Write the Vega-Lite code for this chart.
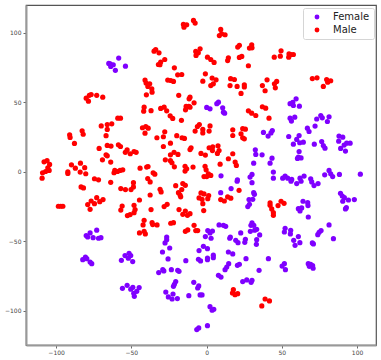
{"$schema":"https://vega.github.io/schema/vega-lite/v6.json","width":350,"height":340,"autosize":"none","padding":{"left":26,"top":5,"right":5,"bottom":15},"background":"white","config":{"font":"DejaVu Sans","view":{"stroke":"#555555","strokeWidth":1.2}},"datasets":{"pts":[
{"x":-58.4,"y":81.8,"g":"Female"},{"x":-53.9,"y":76,"g":"Female"},{"x":-60.6,"y":73,"g":"Female"},{"x":-65,"y":78,"g":"Female"},{"x":-63.7,"y":75.8,"g":"Female"},{"x":-62,"y":77,"g":"Female"},{"x":-64,"y":77.7,"g":"Female"},
{"x":7.9,"y":50.1,"g":"Female"},{"x":6.8,"y":49,"g":"Female"},{"x":0.1,"y":46.3,"g":"Female"},{"x":2.3,"y":45.3,"g":"Female"},{"x":10.7,"y":46,"g":"Female"},{"x":11.2,"y":42.9,"g":"Female"},{"x":12,"y":42.2,"g":"Female"},
{"x":59.5,"y":52.5,"g":"Female"},{"x":57.3,"y":50,"g":"Female"},{"x":55.5,"y":49,"g":"Female"},{"x":57.7,"y":47.7,"g":"Female"},{"x":61.7,"y":47.2,"g":"Female"},{"x":55.5,"y":38.6,"g":"Female"},{"x":58.6,"y":39.3,"g":"Female"},{"x":56.4,"y":36.5,"g":"Female"},
{"x":73.2,"y":38,"g":"Female"},{"x":75.9,"y":40.5,"g":"Female"},{"x":76.9,"y":38.8,"g":"Female"},{"x":81.4,"y":39.6,"g":"Female"},{"x":80.3,"y":36.2,"g":"Female"},{"x":72.1,"y":32.9,"g":"Female"},{"x":67,"y":31.4,"g":"Female"},{"x":68.1,"y":29,"g":"Female"},
{"x":37.8,"y":28.3,"g":"Female"},{"x":43.7,"y":29.7,"g":"Female"},{"x":42.8,"y":28,"g":"Female"},{"x":40.9,"y":25.7,"g":"Female"},{"x":54.6,"y":25.4,"g":"Female"},{"x":61.5,"y":26.1,"g":"Female"},{"x":59.9,"y":23.3,"g":"Female"},{"x":57.7,"y":19.9,"g":"Female"},{"x":61.9,"y":20.9,"g":"Female"},{"x":64.3,"y":21.3,"g":"Female"},
{"x":71.6,"y":19.9,"g":"Female"},{"x":76.5,"y":21.8,"g":"Female"},{"x":77.6,"y":18.9,"g":"Female"},{"x":78.7,"y":17,"g":"Female"},{"x":88,"y":25.7,"g":"Female"},{"x":90.5,"y":24.9,"g":"Female"},{"x":87.8,"y":22,"g":"Female"},{"x":93.1,"y":20.6,"g":"Female"},{"x":95.4,"y":20.6,"g":"Female"},{"x":91.4,"y":19.2,"g":"Female"},{"x":89.1,"y":16.8,"g":"Female"},{"x":92.3,"y":14.9,"g":"Female"},
{"x":61.5,"y":14.6,"g":"Female"},{"x":61,"y":10.6,"g":"Female"},{"x":62.8,"y":10,"g":"Female"},{"x":60.4,"y":9.6,"g":"Female"},{"x":32.4,"y":15.8,"g":"Female"},{"x":32.7,"y":12.5,"g":"Female"},{"x":36.9,"y":12.2,"g":"Female"},{"x":43.5,"y":9.8,"g":"Female"},{"x":31.3,"y":6.2,"g":"Female"},{"x":42.2,"y":6.2,"g":"Female"},
{"x":9.6,"y":-2.9,"g":"Female"},{"x":30.2,"y":-1.9,"g":"Female"},{"x":28.9,"y":-3.8,"g":"Female"},{"x":44.4,"y":-0.2,"g":"Female"},{"x":44.4,"y":-4.6,"g":"Female"},{"x":52.2,"y":-3.1,"g":"Female"},{"x":50.6,"y":-4.6,"g":"Female"},{"x":53.9,"y":-4.6,"g":"Female"},{"x":56.6,"y":-5.5,"g":"Female"},{"x":62.1,"y":-4.6,"g":"Female"},{"x":64.8,"y":-3.1,"g":"Female"},{"x":69.2,"y":-5,"g":"Female"},
{"x":81.4,"y":1,"g":"Female"},{"x":82.5,"y":-1.4,"g":"Female"},{"x":78.5,"y":-2.2,"g":"Female"},{"x":83.8,"y":-3.4,"g":"Female"},{"x":88.3,"y":-1.9,"g":"Female"},{"x":102.2,"y":-1.7,"g":"Female"},{"x":20.5,"y":-5.8,"g":"Female"},
{"x":-73,"y":-42,"g":"Female"},{"x":-77.4,"y":-44,"g":"Female"},{"x":-80,"y":-45.9,"g":"Female"},{"x":-79,"y":-46.9,"g":"Female"},{"x":-75.4,"y":-47.4,"g":"Female"},{"x":-71.8,"y":-47.8,"g":"Female"},{"x":-70.2,"y":-47.4,"g":"Female"},
{"x":-80.5,"y":-61.3,"g":"Female"},{"x":-82.3,"y":-63.2,"g":"Female"},{"x":-79.6,"y":-62.5,"g":"Female"},{"x":-77.4,"y":-64.9,"g":"Female"},{"x":-76.3,"y":-66.1,"g":"Female"},
{"x":-51.5,"y":-58.6,"g":"Female"},{"x":-54.2,"y":-60.3,"g":"Female"},{"x":-50.4,"y":-60.3,"g":"Female"},{"x":-52,"y":-62.2,"g":"Female"},{"x":-56.6,"y":-63.7,"g":"Female"},{"x":-49.1,"y":-64.6,"g":"Female"},
{"x":-26.5,"y":-46.9,"g":"Female"},{"x":-26.5,"y":-48.8,"g":"Female"},{"x":-27.6,"y":-51.2,"g":"Female"},{"x":-24.5,"y":-54.8,"g":"Female"},{"x":-29.3,"y":-57.7,"g":"Female"},{"x":-25.6,"y":-62.7,"g":"Female"},{"x":-13.8,"y":-63.9,"g":"Female"},
{"x":-31.8,"y":-72.5,"g":"Female"},{"x":-29.1,"y":-70.4,"g":"Female"},{"x":-28.4,"y":-71.3,"g":"Female"},{"x":-23.4,"y":-70.4,"g":"Female"},{"x":-19.2,"y":-70.9,"g":"Female"},{"x":-18.3,"y":-71.6,"g":"Female"},
{"x":-52.8,"y":-81.7,"g":"Female"},{"x":-55.9,"y":-83.8,"g":"Female"},{"x":-49,"y":-83.1,"g":"Female"},{"x":-50.4,"y":-84.5,"g":"Female"},{"x":-44.8,"y":-83.3,"g":"Female"},{"x":-46.4,"y":-86,"g":"Female"},{"x":-48.4,"y":-87.4,"g":"Female"},{"x":-48,"y":-89.6,"g":"Female"},
{"x":-20.5,"y":-79,"g":"Female"},{"x":-21.4,"y":-80.9,"g":"Female"},{"x":-22,"y":-82.4,"g":"Female"},{"x":-27.1,"y":-86.5,"g":"Female"},{"x":-22.3,"y":-87.9,"g":"Female"},{"x":-25.4,"y":-90,"g":"Female"},{"x":-22.9,"y":-91.5,"g":"Female"},{"x":-19.4,"y":-91.2,"g":"Female"},{"x":-11.8,"y":-89.1,"g":"Female"},
{"x":30.2,"y":-7.8,"g":"Female"},{"x":20.3,"y":-6.8,"g":"Female"},{"x":16.3,"y":-12.1,"g":"Female"},{"x":9.4,"y":-15,"g":"Female"},{"x":56.1,"y":-6.8,"g":"Female"},{"x":59.9,"y":-8.5,"g":"Female"},{"x":62.8,"y":-6.8,"g":"Female"},{"x":69.9,"y":-7.3,"g":"Female"},{"x":71.4,"y":-9.9,"g":"Female"},{"x":74.1,"y":-8.5,"g":"Female"},
{"x":31.3,"y":-15,"g":"Female"},{"x":31.8,"y":-16.2,"g":"Female"},{"x":28.2,"y":-20,"g":"Female"},{"x":30.7,"y":-19.8,"g":"Female"},{"x":28.5,"y":-23.4,"g":"Female"},{"x":27.4,"y":-25,"g":"Female"},
{"x":89,"y":-15.5,"g":"Female"},{"x":90.2,"y":-17.4,"g":"Female"},{"x":91.6,"y":-18.6,"g":"Female"},{"x":90.5,"y":-21.2,"g":"Female"},{"x":94.3,"y":-20.3,"g":"Female"},{"x":98.2,"y":-20,"g":"Female"},{"x":92.9,"y":-25.8,"g":"Female"},{"x":92.3,"y":-26.7,"g":"Female"},
{"x":64.1,"y":-21.2,"g":"Female"},{"x":67.2,"y":-22.2,"g":"Female"},{"x":67.4,"y":-24.3,"g":"Female"},{"x":61,"y":-26.5,"g":"Female"},{"x":63.2,"y":-26,"g":"Female"},{"x":62.1,"y":-28.2,"g":"Female"},{"x":67.6,"y":-32.5,"g":"Female"},
{"x":8.3,"y":-38.2,"g":"Female"},{"x":11.2,"y":-38.5,"g":"Female"},{"x":12.7,"y":-39.2,"g":"Female"},{"x":0.8,"y":-42.3,"g":"Female"},{"x":3.9,"y":-42.6,"g":"Female"},{"x":2.3,"y":-44,"g":"Female"},{"x":-0.8,"y":-46.6,"g":"Female"},{"x":3,"y":-47.8,"g":"Female"},
{"x":30.2,"y":-36.8,"g":"Female"},{"x":29.5,"y":-38.5,"g":"Female"},{"x":31.4,"y":-38.5,"g":"Female"},{"x":32,"y":-42,"g":"Female"},{"x":29.1,"y":-42.8,"g":"Female"},{"x":33.3,"y":-41.4,"g":"Female"},{"x":22.7,"y":-44,"g":"Female"},{"x":35.3,"y":-45.4,"g":"Female"},{"x":33.3,"y":-48.8,"g":"Female"},{"x":33.1,"y":-52.2,"g":"Female"},
{"x":15.8,"y":-46.9,"g":"Female"},{"x":15.4,"y":-47.8,"g":"Female"},{"x":19.4,"y":-49.3,"g":"Female"},{"x":20.9,"y":-51,"g":"Female"},{"x":25.8,"y":-48.6,"g":"Female"},{"x":25.4,"y":-50.7,"g":"Female"},{"x":-2.1,"y":-53.6,"g":"Female"},{"x":0.6,"y":-55.3,"g":"Female"},{"x":-5,"y":-56.7,"g":"Female"},
{"x":14.5,"y":-57.7,"g":"Female"},{"x":17.4,"y":-59.1,"g":"Female"},{"x":4.5,"y":-60,"g":"Female"},{"x":4.5,"y":-61.8,"g":"Female"},{"x":0.6,"y":-62,"g":"Female"},{"x":0.6,"y":-63.2,"g":"Female"},{"x":-5.4,"y":-62.9,"g":"Female"},{"x":-4,"y":-64.1,"g":"Female"},
{"x":26.2,"y":-62.5,"g":"Female"},{"x":14.7,"y":-66.1,"g":"Female"},{"x":21.8,"y":-66.5,"g":"Female"},{"x":20.5,"y":-67.3,"g":"Female"},{"x":13.4,"y":-68.5,"g":"Female"},{"x":12.3,"y":-70.4,"g":"Female"},{"x":41.1,"y":-62.5,"g":"Female"},{"x":34.9,"y":-70.9,"g":"Female"},
{"x":52.2,"y":-40.6,"g":"Female"},{"x":51.7,"y":-43.3,"g":"Female"},{"x":55.9,"y":-42.1,"g":"Female"},{"x":55.7,"y":-44.7,"g":"Female"},{"x":61,"y":-46.6,"g":"Female"},{"x":57.9,"y":-49.3,"g":"Female"},{"x":58.8,"y":-52.9,"g":"Female"},{"x":62,"y":-51,"g":"Female"},
{"x":81.4,"y":-38.2,"g":"Female"},{"x":76.1,"y":-42.3,"g":"Female"},{"x":74.8,"y":-43.5,"g":"Female"},{"x":73.9,"y":-45.2,"g":"Female"},{"x":84.3,"y":-48.1,"g":"Female"},{"x":70.3,"y":-51.2,"g":"Female"},{"x":71,"y":-51.9,"g":"Female"},
{"x":51.7,"y":-66.1,"g":"Female"},{"x":50.2,"y":-67.8,"g":"Female"},{"x":52.4,"y":-70.4,"g":"Female"},{"x":67.6,"y":-66.1,"g":"Female"},{"x":69.2,"y":-66.6,"g":"Female"},{"x":68.3,"y":-68,"g":"Female"},{"x":70.5,"y":-67.5,"g":"Female"},{"x":70.8,"y":-69.4,"g":"Female"},
{"x":7.9,"y":-74.5,"g":"Female"},{"x":9.6,"y":-75.7,"g":"Female"},{"x":-8.5,"y":-79.5,"g":"Female"},{"x":24,"y":-79,"g":"Female"},{"x":26.7,"y":-77.8,"g":"Female"},{"x":29.6,"y":-79.5,"g":"Female"},{"x":30.2,"y":-78,"g":"Female"},
{"x":-5.2,"y":-82.1,"g":"Female"},{"x":-5.9,"y":-83.6,"g":"Female"},{"x":-4.3,"y":-88.6,"g":"Female"},{"x":-3,"y":-88.6,"g":"Female"},{"x":2.3,"y":-97,"g":"Female"},{"x":3.7,"y":-99.6,"g":"Female"},{"x":4.8,"y":-98.9,"g":"Female"},{"x":0.6,"y":-110.7,"g":"Female"},{"x":-5.2,"y":-112.3,"g":"Female"},{"x":-6.5,"y":-113.5,"g":"Female"},
{"x":-15.4,"y":106,"g":"Male"},{"x":-15,"y":104,"g":"Male"},{"x":-13.2,"y":105.8,"g":"Male"},{"x":-34.9,"y":86.8,"g":"Male"},{"x":-33.8,"y":88,"g":"Male"},{"x":-31.6,"y":85.6,"g":"Male"},{"x":-32,"y":77.2,"g":"Male"},{"x":-30.5,"y":79,"g":"Male"},{"x":-31,"y":77,"g":"Male"},{"x":-27.8,"y":80.8,"g":"Male"},{"x":-21.4,"y":74.8,"g":"Male"},{"x":-19.2,"y":69.8,"g":"Male"},{"x":-16.5,"y":70,"g":"Male"},
{"x":-25.8,"y":66,"g":"Male"},{"x":-23.8,"y":65.7,"g":"Male"},{"x":-22,"y":65,"g":"Male"},{"x":-40.9,"y":66,"g":"Male"},{"x":-40.2,"y":63.8,"g":"Male"},{"x":-37.8,"y":63.3,"g":"Male"},{"x":-39,"y":61.4,"g":"Male"},{"x":-36.4,"y":59.7,"g":"Male"},{"x":-36.2,"y":57.3,"g":"Male"},{"x":-40,"y":55.4,"g":"Male"},{"x":-18.5,"y":55,"g":"Male"},
{"x":-80,"y":53,"g":"Male"},{"x":-78.5,"y":50.8,"g":"Male"},{"x":-77.9,"y":55,"g":"Male"},{"x":-76.7,"y":55.6,"g":"Male"},{"x":-73,"y":55,"g":"Male"},{"x":-69,"y":53.7,"g":"Male"},
{"x":-41.5,"y":46.5,"g":"Male"},{"x":-41.8,"y":43.6,"g":"Male"},{"x":-36.9,"y":44,"g":"Male"},{"x":-30.5,"y":45.6,"g":"Male"},{"x":-28.2,"y":46.5,"g":"Male"},{"x":-26.5,"y":43.9,"g":"Male"},{"x":-24.2,"y":40.3,"g":"Male"},{"x":-22.5,"y":38.4,"g":"Male"},{"x":-16.7,"y":37,"g":"Male"},{"x":-13.6,"y":47,"g":"Male"},{"x":-14,"y":44.6,"g":"Male"},{"x":-11.6,"y":52.5,"g":"Male"},{"x":-11.8,"y":47,"g":"Male"},
{"x":-59,"y":38.6,"g":"Male"},{"x":-57.2,"y":38.6,"g":"Male"},{"x":-70,"y":33,"g":"Male"},{"x":-66,"y":34,"g":"Male"},{"x":-63,"y":34.5,"g":"Male"},{"x":-66,"y":30.5,"g":"Male"},{"x":-66.8,"y":26,"g":"Male"},{"x":-82.7,"y":29.5,"g":"Male"},{"x":-82,"y":27,"g":"Male"},{"x":-91,"y":26.6,"g":"Male"},{"x":-90.7,"y":24.7,"g":"Male"},{"x":-87.8,"y":20.4,"g":"Male"},
{"x":-42.6,"y":31.7,"g":"Male"},{"x":-40.4,"y":32.6,"g":"Male"},{"x":-38.8,"y":31.4,"g":"Male"},{"x":-40.9,"y":27.8,"g":"Male"},{"x":-33,"y":24.5,"g":"Male"},{"x":-27.8,"y":28.8,"g":"Male"},{"x":-28.7,"y":25.2,"g":"Male"},{"x":-19.8,"y":26,"g":"Male"},{"x":-16.3,"y":24.5,"g":"Male"},{"x":-14.7,"y":24,"g":"Male"},{"x":-28.7,"y":18.2,"g":"Male"},{"x":-24,"y":20.6,"g":"Male"},{"x":-11,"y":16,"g":"Male"},
{"x":-71.4,"y":16.8,"g":"Male"},{"x":-66,"y":19,"g":"Male"},{"x":-63.5,"y":18.5,"g":"Male"},{"x":-58.6,"y":19.4,"g":"Male"},{"x":-57.2,"y":18.2,"g":"Male"},{"x":-54,"y":14,"g":"Male"},{"x":-52.8,"y":15.8,"g":"Male"},{"x":-50.7,"y":13,"g":"Male"},{"x":-48.2,"y":14.6,"g":"Male"},{"x":-46.8,"y":14,"g":"Male"},{"x":-66.8,"y":12.2,"g":"Male"},{"x":-66,"y":11.5,"g":"Male"},{"x":-69.2,"y":8.6,"g":"Male"},{"x":-63.7,"y":7,"g":"Male"},
{"x":-27.4,"y":8.6,"g":"Male"},{"x":-24,"y":12.2,"g":"Male"},{"x":-21.6,"y":14,"g":"Male"},{"x":-19,"y":12.5,"g":"Male"},{"x":-24,"y":8,"g":"Male"},{"x":-23,"y":6.5,"g":"Male"},{"x":-21.4,"y":3.6,"g":"Male"},{"x":-14.3,"y":4,"g":"Male"},{"x":-13.2,"y":2.2,"g":"Male"},{"x":-14.3,"y":0.5,"g":"Male"},
{"x":-108,"y":7.2,"g":"Male"},{"x":-106,"y":8,"g":"Male"},{"x":-104.3,"y":5.3,"g":"Male"},{"x":-105.5,"y":2.9,"g":"Male"},{"x":-104.6,"y":1,"g":"Male"},{"x":-107,"y":0.2,"g":"Male"},{"x":-109,"y":-0.7,"g":"Male"},{"x":-109.3,"y":-4.6,"g":"Male"},
{"x":-89.8,"y":5,"g":"Male"},{"x":-83.8,"y":6.2,"g":"Male"},{"x":-81,"y":3,"g":"Male"},{"x":-87.2,"y":2.6,"g":"Male"},{"x":-84,"y":-0.2,"g":"Male"},{"x":-80.3,"y":-1.4,"g":"Male"},{"x":-92.2,"y":0,"g":"Male"},{"x":-92.2,"y":-1.2,"g":"Male"},{"x":-74.5,"y":-5,"g":"Male"},{"x":-71.8,"y":-5.8,"g":"Male"},
{"x":-61,"y":1,"g":"Male"},{"x":-61.5,"y":-0.7,"g":"Male"},{"x":-59.2,"y":0.2,"g":"Male"},{"x":-57.5,"y":1,"g":"Male"},{"x":-55.7,"y":1.4,"g":"Male"},{"x":-44.2,"y":2.6,"g":"Male"},{"x":-39.8,"y":3.4,"g":"Male"},{"x":-38.9,"y":3.8,"g":"Male"},{"x":-35.5,"y":-0.7,"g":"Male"},{"x":-34.4,"y":-1.7,"g":"Male"},{"x":-39.1,"y":-4.8,"g":"Male"},
{"x":-8.7,"y":108.9,"g":"Male"},{"x":-7.6,"y":107,"g":"Male"},{"x":9.4,"y":102.4,"g":"Male"},{"x":8.5,"y":98,"g":"Male"},{"x":12.3,"y":98.6,"g":"Male"},{"x":10,"y":99.3,"g":"Male"},{"x":21.8,"y":91,"g":"Male"},{"x":20.7,"y":89.7,"g":"Male"},{"x":30,"y":91.4,"g":"Male"},{"x":28.5,"y":89,"g":"Male"},{"x":30.2,"y":89.2,"g":"Male"},
{"x":-4.3,"y":88.5,"g":"Male"},{"x":-7.2,"y":86.6,"g":"Male"},{"x":-5.5,"y":85.6,"g":"Male"},{"x":-7,"y":83.7,"g":"Male"},{"x":0.6,"y":82.5,"g":"Male"},{"x":2.8,"y":80.8,"g":"Male"},{"x":5,"y":78.7,"g":"Male"},{"x":14.5,"y":82,"g":"Male"},{"x":14,"y":80,"g":"Male"},{"x":21.8,"y":82.3,"g":"Male"},{"x":23.4,"y":83,"g":"Male"},{"x":27.8,"y":76.3,"g":"Male"},
{"x":45,"y":82.5,"g":"Male"},{"x":49.5,"y":87,"g":"Male"},{"x":49,"y":83.2,"g":"Male"},{"x":54.8,"y":84.9,"g":"Male"},{"x":54.6,"y":82.5,"g":"Male"},{"x":57.7,"y":84.4,"g":"Male"},{"x":56.1,"y":84.4,"g":"Male"},
{"x":-0.8,"y":70.5,"g":"Male"},{"x":-2.5,"y":65.2,"g":"Male"},{"x":3.7,"y":67.4,"g":"Male"},{"x":6.3,"y":66.2,"g":"Male"},{"x":4.5,"y":63.3,"g":"Male"},{"x":2.8,"y":62,"g":"Male"},{"x":16,"y":67,"g":"Male"},{"x":18.5,"y":66.4,"g":"Male"},{"x":15.6,"y":62,"g":"Male"},{"x":20.3,"y":61.4,"g":"Male"},{"x":25.1,"y":62.6,"g":"Male"},{"x":25.1,"y":61,"g":"Male"},{"x":22.9,"y":56.4,"g":"Male"},
{"x":40.2,"y":66.2,"g":"Male"},{"x":37.1,"y":62,"g":"Male"},{"x":38.9,"y":58.3,"g":"Male"},{"x":46.6,"y":65,"g":"Male"},{"x":45.1,"y":63.3,"g":"Male"},{"x":45.7,"y":60.4,"g":"Male"},{"x":70.3,"y":67.1,"g":"Male"},{"x":73.4,"y":67.6,"g":"Male"},{"x":79.8,"y":66.4,"g":"Male"},{"x":82.5,"y":65.5,"g":"Male"},{"x":80.5,"y":64.5,"g":"Male"},{"x":77.6,"y":61.4,"g":"Male"},
{"x":-11,"y":53.7,"g":"Male"},{"x":-8.3,"y":49.6,"g":"Male"},{"x":-11,"y":46.5,"g":"Male"},{"x":27.8,"y":43.9,"g":"Male"},{"x":30,"y":42.2,"g":"Male"},{"x":32.7,"y":40.5,"g":"Male"},{"x":37.1,"y":46.8,"g":"Male"},{"x":39.3,"y":45.8,"g":"Male"},{"x":41.5,"y":38.6,"g":"Male"},
{"x":-4.8,"y":34,"g":"Male"},{"x":-6.1,"y":32.6,"g":"Male"},{"x":2.3,"y":33,"g":"Male"},{"x":-7.6,"y":29.3,"g":"Male"},{"x":-2.5,"y":30.5,"g":"Male"},{"x":-2.5,"y":28,"g":"Male"},{"x":1.7,"y":29.3,"g":"Male"},{"x":17.4,"y":30.2,"g":"Male"},{"x":17.4,"y":26.1,"g":"Male"},{"x":24,"y":31,"g":"Male"},{"x":25.8,"y":30.7,"g":"Male"},{"x":22.9,"y":27.3,"g":"Male"},{"x":24,"y":24.5,"g":"Male"},{"x":25.1,"y":23.7,"g":"Male"},
{"x":-10.3,"y":17.3,"g":"Male"},{"x":-3.7,"y":13.2,"g":"Male"},{"x":-0.8,"y":12,"g":"Male"},{"x":1.7,"y":17.3,"g":"Male"},{"x":4.1,"y":18,"g":"Male"},{"x":7.6,"y":18.7,"g":"Male"},{"x":3.9,"y":15.3,"g":"Male"},{"x":8.3,"y":15.3,"g":"Male"},{"x":7.2,"y":13.2,"g":"Male"},{"x":17.4,"y":13,"g":"Male"},{"x":14.5,"y":9.4,"g":"Male"},{"x":19,"y":7,"g":"Male"},{"x":19.8,"y":4.6,"g":"Male"},{"x":9,"y":5.5,"g":"Male"},
{"x":-9,"y":3.4,"g":"Male"},{"x":-1,"y":4,"g":"Male"},{"x":-0.3,"y":1.4,"g":"Male"},{"x":1.2,"y":-1.4,"g":"Male"},{"x":-1.7,"y":-3.4,"g":"Male"},{"x":0.1,"y":-3.4,"g":"Male"},{"x":2.8,"y":-2.6,"g":"Male"},
{"x":-83.4,"y":-10.9,"g":"Male"},{"x":-81.8,"y":-11.6,"g":"Male"},{"x":-63.7,"y":-7.6,"g":"Male"},{"x":-57,"y":-12.1,"g":"Male"},{"x":-53.9,"y":-12.8,"g":"Male"},{"x":-50.2,"y":-12.8,"g":"Male"},{"x":-48.6,"y":-10.9,"g":"Male"},{"x":-48.6,"y":-7.8,"g":"Male"},{"x":-37.5,"y":-7.3,"g":"Male"},{"x":-37.5,"y":-16.7,"g":"Male"},{"x":-30.9,"y":-12.6,"g":"Male"},{"x":-30.2,"y":-14.5,"g":"Male"},
{"x":-20.5,"y":-10,"g":"Male"},{"x":-18.7,"y":-15,"g":"Male"},{"x":-17.6,"y":-16.7,"g":"Male"},{"x":-17.2,"y":-18,"g":"Male"},{"x":-15.8,"y":-8.5,"g":"Male"},{"x":-14.1,"y":-9.7,"g":"Male"},{"x":-16.5,"y":-12.8,"g":"Male"},{"x":-98.5,"y":-24.8,"g":"Male"},{"x":-96.9,"y":-24.8,"g":"Male"},{"x":-95.5,"y":-24.8,"g":"Male"},
{"x":-73,"y":-18.6,"g":"Male"},{"x":-76.7,"y":-21,"g":"Male"},{"x":-74.5,"y":-22.9,"g":"Male"},{"x":-79,"y":-23.6,"g":"Male"},{"x":-71,"y":-21.5,"g":"Male"},{"x":-68.8,"y":-20,"g":"Male"},{"x":-77.4,"y":-27,"g":"Male"},
{"x":-44.6,"y":-20.3,"g":"Male"},{"x":-56.1,"y":-24.6,"g":"Male"},{"x":-57,"y":-27.5,"g":"Male"},{"x":-48.2,"y":-24.1,"g":"Male"},{"x":-47.5,"y":-27.2,"g":"Male"},{"x":-48.2,"y":-29.4,"g":"Male"},{"x":-52.6,"y":-31.5,"g":"Male"},{"x":-50.8,"y":-30.8,"g":"Male"},{"x":-36.9,"y":-27.2,"g":"Male"},{"x":-28.2,"y":-25,"g":"Male"},{"x":-26.2,"y":-23.4,"g":"Male"},{"x":-18.3,"y":-27.2,"g":"Male"},{"x":-14.1,"y":-28.2,"g":"Male"},{"x":-15.8,"y":-30.6,"g":"Male"},{"x":-12.7,"y":-31.3,"g":"Male"},
{"x":-41.5,"y":-34.9,"g":"Male"},{"x":-42.2,"y":-38.2,"g":"Male"},{"x":-36.2,"y":-36.6,"g":"Male"},{"x":-35.8,"y":-38,"g":"Male"},{"x":-32.9,"y":-38.2,"g":"Male"},{"x":-23.8,"y":-37,"g":"Male"},{"x":-22,"y":-36.6,"g":"Male"},{"x":-44.6,"y":-44,"g":"Male"},{"x":-41.5,"y":-42.8,"g":"Male"},{"x":-40.7,"y":-44.7,"g":"Male"},{"x":-14.1,"y":-42.8,"g":"Male"},{"x":-12.5,"y":-41.8,"g":"Male"},
{"x":-3.7,"y":-15.2,"g":"Male"},{"x":-1.7,"y":-15.9,"g":"Male"},{"x":1.4,"y":-17.1,"g":"Male"},{"x":0.8,"y":-19.3,"g":"Male"},{"x":-5,"y":-18.8,"g":"Male"},{"x":-3,"y":-19.8,"g":"Male"},{"x":-2.5,"y":-22.9,"g":"Male"},{"x":9.4,"y":-20,"g":"Male"},{"x":11.8,"y":-21,"g":"Male"},{"x":14,"y":-18.1,"g":"Male"},{"x":16.1,"y":-19,"g":"Male"},{"x":21.6,"y":-13.3,"g":"Male"},{"x":-1.9,"y":-27.9,"g":"Male"},{"x":-11,"y":-30.1,"g":"Male"},
{"x":42.2,"y":-22.4,"g":"Male"},{"x":42.2,"y":-24.1,"g":"Male"},{"x":43.3,"y":-26.7,"g":"Male"},{"x":44.4,"y":-29.4,"g":"Male"},{"x":44.4,"y":-31.3,"g":"Male"},{"x":47.5,"y":-24.3,"g":"Male"},{"x":49.5,"y":-21.2,"g":"Male"},{"x":51.5,"y":-22.7,"g":"Male"},{"x":-8.3,"y":-38.5,"g":"Male"},{"x":-7.2,"y":-42.3,"g":"Male"},{"x":-5.9,"y":-42.3,"g":"Male"},
{"x":17.8,"y":-84.8,"g":"Male"},{"x":17.2,"y":-87.2,"g":"Male"},{"x":18.9,"y":-88.4,"g":"Male"},{"x":20.7,"y":-87.7,"g":"Male"},{"x":38.9,"y":-91.5,"g":"Male"},{"x":41.8,"y":-92.9,"g":"Male"},{"x":36.7,"y":-96.5,"g":"Male"}
]},"data":{"name":"pts"},"mark":{"type":"circle","size":27,"opacity":1},"encoding":{"x":{"field":"x","type":"quantitative","title":null,"scale":{"domain":[-120,112.6],"nice":false,"zero":false},"axis":{"values":[-100,-50,0,50,100],"grid":false,"labelFontSize":6,"labelColor":"#444444","tickColor":"#444444","tickSize":3,"tickWidth":0.8,"labelPadding":1.5,"domainColor":"#999999","domainWidth":2,"labelFlush":false}},"y":{"field":"y","type":"quantitative","title":null,"scale":{"domain":[-124.6,120],"nice":false,"zero":false},"axis":{"values":[-100,-50,0,50,100],"grid":false,"labelFontSize":6,"labelColor":"#444444","tickColor":"#444444","tickSize":3,"tickWidth":0.8,"labelPadding":2,"domainColor":"#999999","domainWidth":2}},"color":{"field":"g","type":"nominal","scale":{"domain":["Female","Male"],"range":["#7f00ff","#ff0000"]},"legend":{"title":null,"orient":"none","legendX":277,"legendY":3,"padding":4,"strokeColor":"#d5d5d5","fillColor":"white","cornerRadius":2,"labelFontSize":10,"labelColor":"#222222","symbolType":"circle","symbolSize":24,"symbolOpacity":1,"rowPadding":3,"labelOffset":11,"symbolOffset":5}}}}
